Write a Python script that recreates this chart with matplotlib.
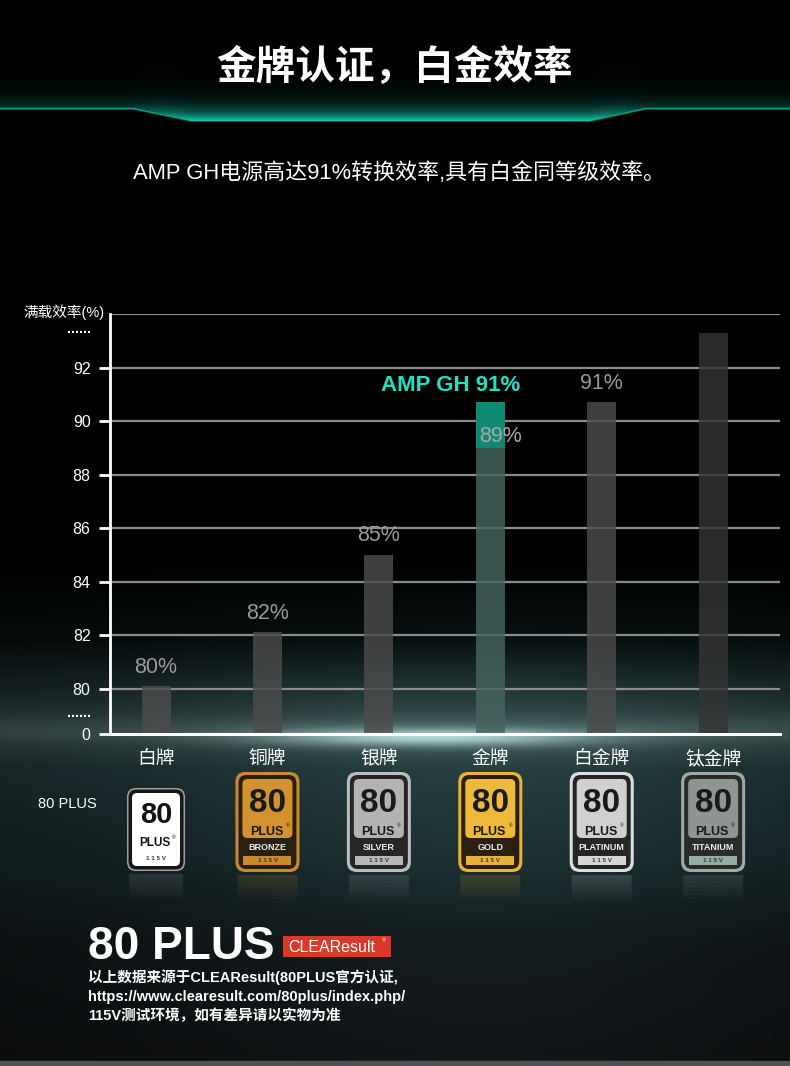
import numpy as np
import matplotlib
matplotlib.use("Agg")
import matplotlib.pyplot as plt
from matplotlib.patches import FancyBboxPatch, Rectangle

plt.rcParams['font.family'] = ['Liberation Sans', 'Noto Sans CJK SC', 'DejaVu Sans']

W, H = 790, 1066

# data
categories = ['白牌', '铜牌', '银牌', '金牌', '白金牌', '钛金牌']
bar_tops = [80.1, 82.1, 85.0, 90.7, 90.7, 93.3]
pct_labels = ['80%', '82%', '85%', '', '91%', '']
gold_rated = 89.0
gold_label = '89%'
amp_label = 'AMP GH 91%'
y_ticks = [80, 82, 84, 86, 88, 90, 92]
y_zero = 78.3          # where the "0" of the broken axis sits
badge_names = ['', 'BRONZE', 'SILVER', 'GOLD', 'PLATINUM', 'TITANIUM']

title = '金牌认证，白金效率'
subtitle = 'AMP GH电源高达91%转换效率,具有白金同等级效率。'
notes = ['以上数据来源于CLEAResult(80PLUS官方认证,',
         'https://www.clearesult.com/80plus/index.php/',
         '115V测试环境，如有差异请以实物为准']

# badge colours: outer, frame, inner, strip
badge_styles = [
    ('#a0a0a0', '#161616', '#ffffff', '#ffffff'),
    ('#c98a2e', '#2b1f12', '#d3922f', '#c98a2e'),
    ('#bdbdbd', '#262626', '#b3b3b3', '#b8b8b8'),
    ('#e9b335', '#2a2010', '#efba3a', '#e6b23a'),
    ('#dedede', '#252525', '#d0d0d0', '#d6d6d6'),
    ('#a3a8a5', '#2a2c2b', '#8f9592', '#93ada3'),
]

fig = plt.figure(figsize=(W / 100, H / 100), dpi=100)
fig.patch.set_facecolor('black')

# ---- background image ----
rows = np.arange(H)
cols = np.arange(W)
keys_y = [0, 560, 640, 700, 735, 770, 860, 940, 1066]
keys_c = np.array([[0, 0, 0], [0, 0, 0], [8, 18, 18], [40, 62, 62], [62, 88, 86],
                   [38, 62, 64], [28, 48, 50], [20, 29, 31], [18, 20, 22]], float)
base = np.stack([np.interp(rows, keys_y, keys_c[:, k]) for k in range(3)], axis=-1)
horiz = 0.55 + 0.45 * np.exp(-((cols - 480) / 330.0) ** 2)
bg = base[:, None, :] * horiz[None, :, None]
yy = rows[:, None]
xx = cols[None, :]
streak = np.exp(-((xx - 430) / 160.0) ** 2 - ((yy - 737) / 9.0) ** 2)
band = np.exp(-((yy - 728) / 14.0) ** 2) * 0.35
bg += (streak * 120 + band * 40)[..., None] * np.array([0.9, 1.0, 1.0])
# header glow line
line_y = np.interp(cols, [0, 133, 190, 590, 645, 790], [108, 108, 120, 120, 108, 108])
strength = np.interp(cols, [0, 133, 190, 590, 645, 790], [0.3, 0.3, 1.0, 1.0, 0.3, 0.3])
d = line_y[None, :] - yy
glow = np.where(d >= 0, np.exp(-d / 10.0), 0) * strength[None, :]
edge = np.exp(-(d / 1.2) ** 2) * 0.8
bg += (np.maximum(glow, edge))[..., None] * np.array([20, 200, 170])
bg = np.clip(bg, 0, 255) / 255.0

bgax = fig.add_axes([0, 0, 1, 1], zorder=0)
bgax.imshow(bg, extent=(0, W, H, 0), aspect='auto', interpolation='bilinear')
bgax.set_xlim(0, W)
bgax.set_ylim(H, 0)
bgax.axis('off')
bgax.add_patch(Rectangle((0, 1061), W, 5, color='#4d5253', zorder=2))

# ---- titles ----
bgax.text(395, 67, title, ha='center', va='center', color='white', fontsize=28.5,
          fontweight='bold')
bgax.text(399, 173, subtitle, ha='center', va='center', color='white', fontsize=15.8)

# ---- chart ----
ax = fig.add_axes([110 / W, 1 - 734 / H, 670 / W, (734 - 314) / H], zorder=2)
ax.set_facecolor('none')
x = np.arange(len(categories))
ax.set_xlim(-0.413, 5.60)
ax.set_ylim(y_zero, 94)

for v in y_ticks + [94]:
    ax.axhline(v, color='#8c8c8c', lw=1.6, zorder=0.5)

bar_colors = ['#4c4c4c', '#4c4c4c', '#4c4c4c', '#44645f', '#4c4c4c', '#343434']
heights = np.array(bar_tops) - y_zero
ax.bar(x, heights, bottom=y_zero, width=0.26, color=bar_colors, alpha=0.82, zorder=2)
ax.bar(x[3], bar_tops[3] - gold_rated, bottom=gold_rated, width=0.26,
       color='#0e8a72', zorder=3)

for i, lab in enumerate(pct_labels):
    if lab:
        ax.annotate(lab, (x[i], bar_tops[i]), xytext=(0, 6), textcoords='offset points',
                    ha='center', va='bottom', color='#9a9a9a', fontsize=15.5)
ax.text(x[3] + 0.09, 89.43, gold_label, ha='center', va='center', color='#a8a8a8',
        fontsize=15.5, zorder=4)
ax.text(x[3] - 0.36, 91.33, amp_label, ha='center', va='center', color='#1ee3c3',
        fontsize=16, fontweight='bold')

ax.set_yticks([y_zero] + y_ticks)
ax.set_yticklabels(['0'] + [str(t) for t in y_ticks])
ax.set_xticks(x)
ax.set_xticklabels(categories)
ax.tick_params(axis='y', colors='white', length=8, width=2, labelsize=11.5, pad=6)
ax.tick_params(axis='x', length=0, labelcolor='white', labelsize=13.5, pad=12)
for s in ['top', 'right']:
    ax.spines[s].set_visible(False)
ax.spines['left'].set_color('white')
ax.spines['left'].set_linewidth(2)
ax.spines['bottom'].set_color('white')
ax.spines['bottom'].set_linewidth(2.2)

bgax.text(104, 312, '满载效率(%)', ha='right', va='center', color='white', fontsize=10.5)
bgax.text(79, 329, '......', ha='center', va='center', color='white', fontsize=10,
          fontweight='bold')
bgax.text(79, 713, '......', ha='center', va='center', color='white', fontsize=10,
          fontweight='bold')
bgax.text(38, 804, '80 PLUS', ha='left', va='center', color='white', fontsize=10.5)

# ---- badges ----
bfont = ['Liberation Sans']


def rbox(x0, y0, w, h, r, color, z=3, alpha=1.0):
    bgax.add_patch(FancyBboxPatch((x0, y0), w, h, boxstyle=f'round,pad=0,rounding_size={r}',
                                  fc=color, ec='none', zorder=z, alpha=alpha))


def draw_badge(cx, name, st):
    outer, frame, inner, strip = st
    if name == '':
        w, h, top = 58, 83, 788
        x0 = cx - w / 2
        rbox(x0, top, w, h, 9, outer)
        rbox(x0 + 1.5, top + 1.5, w - 3, h - 3, 8, frame)
        rbox(x0 + 5, top + 5, w - 10, h - 10, 5, inner)
        bgax.text(cx, top + 27, '80', ha='center', va='center', color='#111111',
                  fontsize=21, fontweight='bold', family=bfont, zorder=5)
        bgax.text(cx - 1, top + 55, 'PLUS', ha='center', va='center', color='#111111',
                  fontsize=8.5, fontweight='bold', family=bfont, zorder=5)
        bgax.text(cx + 18, top + 50, '®', ha='center', va='center', color='#111111',
                  fontsize=3.5, zorder=5)
        bgax.text(cx, top + 70, '1 1 5 V', ha='center', va='center', color='#333333',
                  fontsize=4.5, fontweight='bold', zorder=5)
    else:
        w, h, top = 64, 100, 772
        x0 = cx - w / 2
        rbox(x0, top, w, h, 10, outer)
        rbox(x0 + 3, top + 3, w - 6, h - 6, 8, frame)
        rbox(x0 + 7, top + 7, w - 14, 59, 5, inner)
        bgax.add_patch(Rectangle((x0 + 8, top + 84), w - 16, 9, fc=strip, ec='none', zorder=4))
        bgax.text(cx, top + 31, '80', ha='center', va='center', color='#1a1a1a',
                  fontsize=24, fontweight='bold', family=bfont, zorder=5)
        bgax.text(cx - 1, top + 60, 'PLUS', ha='center', va='center', color='#1a1a1a',
                  fontsize=9, fontweight='bold', family=bfont, zorder=5)
        bgax.text(cx + 20, top + 54, '®', ha='center', va='center', color='#1a1a1a',
                  fontsize=3.5, zorder=5)
        bgax.text(cx, top + 75.5, name, ha='center', va='center', color='#eeeeee',
                  fontsize=6.5, fontweight='bold', family=bfont, zorder=5)
        bgax.text(cx, top + 88.5, '1 1 5 V', ha='center', va='center', color='#333333',
                  fontsize=4.5, fontweight='bold', zorder=5)
    # faint reflection
    for k in range(6):
        rbox(x0 + 2, top + h + 3 + k * 4, w - 4, 4, 0, outer, z=2, alpha=0.16 - k * 0.025)


for i, name in enumerate(badge_names):
    cx = ax.transData.transform((x[i], y_zero))[0]
    draw_badge(cx, name, badge_styles[i])

# ---- footer ----
bgax.text(88, 959, '80 PLUS', ha='left', va='baseline', color='white', fontsize=33,
          fontweight='bold')
bgax.add_patch(Rectangle((283, 936), 108, 21, fc='#d8392b', ec='none', zorder=3))
bgax.text(332, 947, 'CLEAResult', ha='center', va='center', color='white', fontsize=11.5,
          zorder=4)
bgax.text(384, 941, '®', ha='center', va='center', color='white', fontsize=4, zorder=4)
for k, line in enumerate(notes):
    bgax.text(88, 977 + k * 19.5, line, ha='left', va='center', color='white',
              fontsize=10.5, fontweight='bold')

fig.savefig('out.png', dpi=100, facecolor='black')
